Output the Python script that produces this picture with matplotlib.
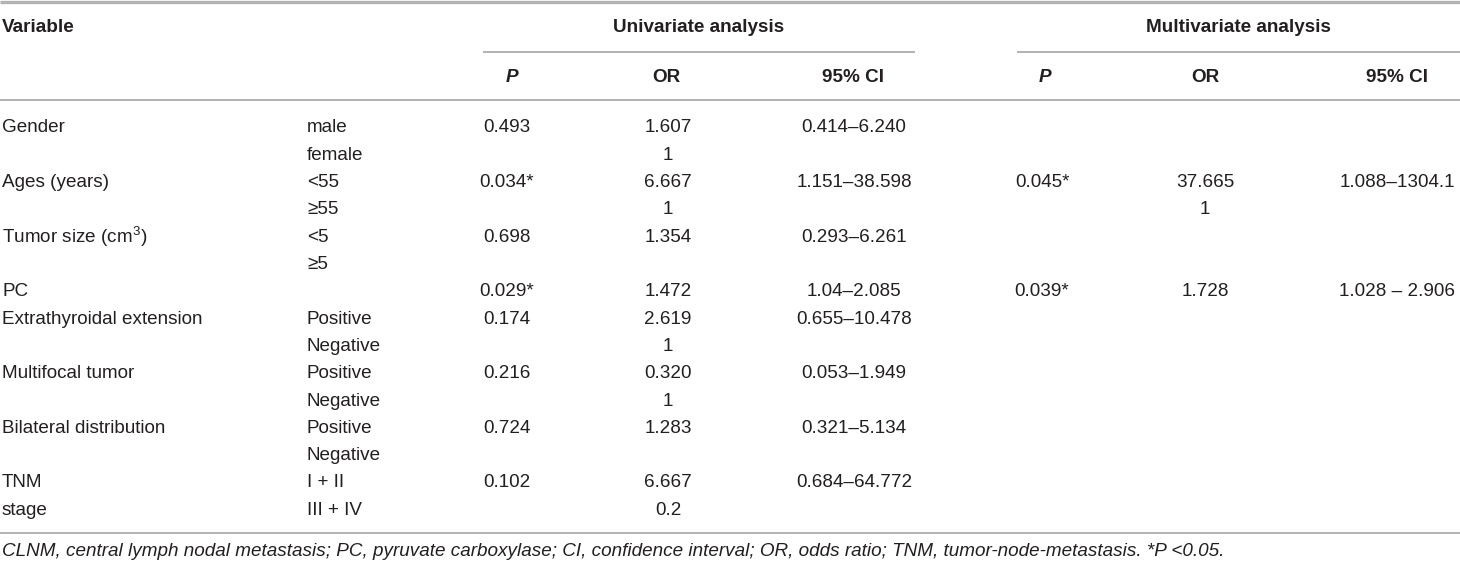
import matplotlib
matplotlib.use("Agg")
import matplotlib.pyplot as plt

plt.rcParams['font.family'] = ['Liberation Sans', 'DejaVu Sans']
plt.rcParams['mathtext.fontset'] = 'custom'
plt.rcParams['mathtext.rm'] = 'Liberation Sans'
plt.rcParams['mathtext.it'] = 'Liberation Sans:italic'
plt.rcParams['mathtext.bf'] = 'Liberation Sans:bold'

# ---- data ----
variables = ["Gender", "", "Ages (years)", "", "Tumor size (cm$^{3}$)", "", "PC",
             "Extrathyroidal extension", "", "Multifocal tumor", "",
             "Bilateral distribution", "", "TNM", "stage"]
levels = ["male", "female", "<55", "\u226555", "<5", "\u22655", "", "Positive", "Negative",
          "Positive", "Negative", "Positive", "Negative", "I + II", "III + IV"]
uni_p = ["0.493", "", "0.034*", "", "0.698", "", "0.029*", "0.174", "", "0.216", "",
         "0.724", "", "0.102", ""]
uni_or = ["1.607", "1", "6.667", "1", "1.354", "", "1.472", "2.619", "1", "0.320", "1",
          "1.283", "", "6.667", "0.2"]
uni_ci = ["0.414\u20136.240", "", "1.151\u201338.598", "", "0.293\u20136.261", "",
          "1.04\u20132.085", "0.655\u201310.478", "", "0.053\u20131.949", "",
          "0.321\u20135.134", "", "0.684\u201364.772", ""]
multi_p = ["", "", "0.045*", "", "", "", "0.039*", "", "", "", "", "", "", "", ""]
multi_or = ["", "", "37.665", "1", "", "", "1.728", "", "", "", "", "", "", "", ""]
multi_ci = ["", "", "1.088\u20131304.1", "", "", "", "1.028 \u2013 2.906", "", "", "", "",
            "", "", "", ""]
group_titles = ["Univariate analysis", "Multivariate analysis"]
sub_headers = ["P", "OR", "95% CI"]
footnote = ("CLNM, central lymph nodal metastasis; PC, pyruvate carboxylase; CI, confidence "
            "interval; OR, odds ratio; TNM, tumor-node-metastasis. *P <0.05.")

# ---- layout ----
W, H = 1460, 566
fig = plt.figure(figsize=(W / 100, H / 100), dpi=100)
ax = fig.add_axes([0, 0, 1, 1])
ax.set_xlim(0, W)
ax.set_ylim(H, 0)
ax.axis('off')

FS = 13.6
TXT = '#231f20'
LINE = '#a6a6a6'

x_var = 2
x_lev = 307
x_cols = [507, 668, 854, 1042, 1205, 1397]
x_head = [512, 666, 853, 1045, 1205, 1397]

y0, dy = 128, 27.3
y_title, y_sub = 28, 77

# lines
ax.plot([0, W], [2, 2], color='#b3b3b3', lw=2.4, solid_capstyle='butt')
ax.plot([483, 915], [52, 52], color=LINE, lw=1.2, solid_capstyle='butt')
ax.plot([1017, W], [52, 52], color=LINE, lw=1.2, solid_capstyle='butt')
ax.plot([0, W], [100, 100], color=LINE, lw=1.2, solid_capstyle='butt')
ax.plot([0, W], [533, 533], color=LINE, lw=1.2, solid_capstyle='butt')

# headers
ax.text(x_var, y_title, "Variable", fontsize=FS, fontweight='bold', color=TXT,
        ha='left', va='center')
ax.text((483 + 915) / 2, y_title, group_titles[0], fontsize=FS, fontweight='bold',
        color=TXT, ha='center', va='center')
ax.text((1017 + W) / 2, y_title, group_titles[1], fontsize=FS, fontweight='bold',
        color=TXT, ha='center', va='center')
for g in range(2):
    for k, h in enumerate(sub_headers):
        ax.text(x_head[g * 3 + k], y_sub, h, fontsize=FS, fontweight='bold',
                fontstyle='italic' if h == 'P' else 'normal', color=TXT,
                ha='center', va='center')

# body
cols = [uni_p, uni_or, uni_ci, multi_p, multi_or, multi_ci]
for i in range(len(variables)):
    y = y0 + i * dy
    if variables[i]:
        ax.text(x_var, y, variables[i], fontsize=FS, color=TXT, ha='left', va='center')
    if levels[i]:
        ax.text(x_lev, y, levels[i], fontsize=FS, color=TXT, ha='left', va='center')
    for c, col in enumerate(cols):
        if col[i]:
            ax.text(x_cols[c], y, col[i], fontsize=FS, color=TXT, ha='center', va='center')

ax.text(x_var, 552, footnote, fontsize=FS, fontstyle='italic', color=TXT,
        ha='left', va='center')

fig.savefig("out.png", dpi=100)
